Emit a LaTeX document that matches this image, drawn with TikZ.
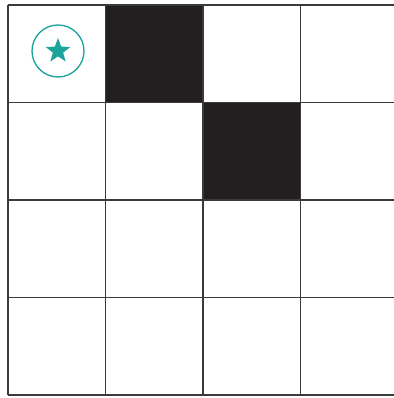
\documentclass[tikz,border=0pt]{standalone}
\usepackage{xcolor}
\usepackage{tikz}
\usetikzlibrary{
  shapes.geometric,
}

\definecolor{gridline}{HTML}{3A3A3A}
\definecolor{wallcell}{HTML}{231F20}
\definecolor{goalteal}{HTML}{1BA39C}

\begin{document}
\begin{tikzpicture}[
  x=0.75pt, y=-0.75pt,
  every node/.style={align=center},
]

\useasboundingbox[fill=white] (0,0) rectangle (393,398);

% blocked cells
\foreach \c/\r in {1/0,2/1}{
  \fill[wallcell] (8+97.5*\c,5+97.5*\r) rectangle ++(97.5,97.5);
}

% grid
\foreach \i in {0,...,4}{
  \draw[gridline, line width=1.4pt] (8,5+97.5*\i) -- (398,5+97.5*\i);
  \draw[gridline, line width=1.4pt] (8+97.5*\i,5) -- (8+97.5*\i,395);
}

% goal marker
\node[circle, draw=goalteal, line width=1pt, minimum size=39pt, inner sep=0pt] (goalring) at (58,51) {};
\node[star, star points=5, star point ratio=2.4, fill=goalteal, minimum size=19.5pt, inner sep=0pt] (goalstar) at (goalring.center) {};

\end{tikzpicture}
\end{document}
